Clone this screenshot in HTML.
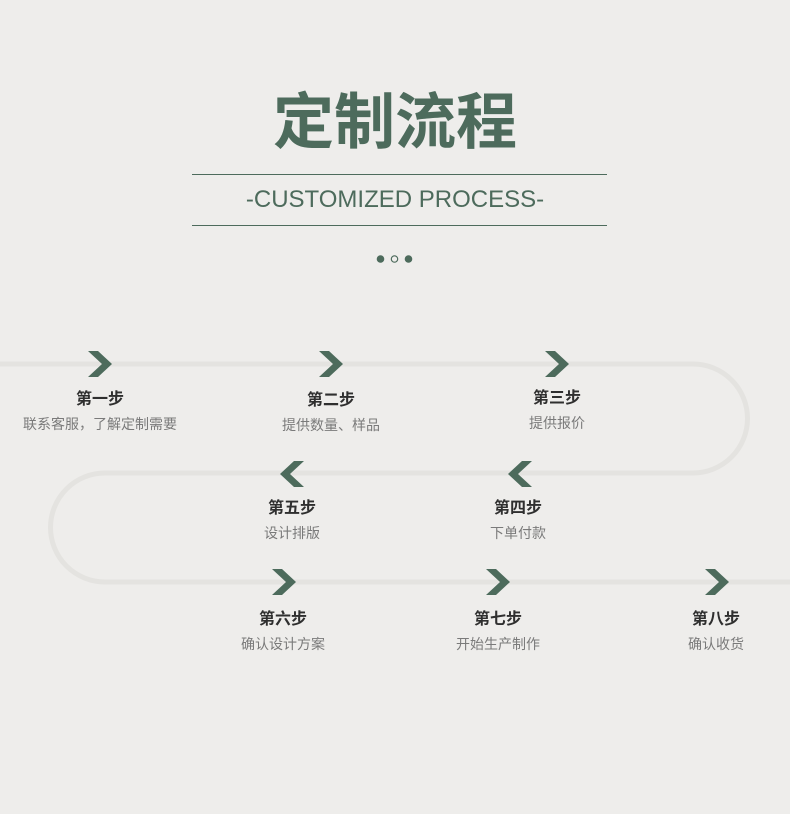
<!DOCTYPE html>
<html><head><meta charset="utf-8"><style>
html,body{margin:0;padding:0;background:#eeedeb;}
body{width:790px;height:814px;position:relative;overflow:hidden;font-family:"Liberation Sans","Noto Sans CJK SC",sans-serif;}
.t{position:absolute;left:0;width:790px;text-align:center;}
.lbl{position:absolute;width:200px;margin-left:-100px;text-align:center;}
.lbl b{display:block;font-size:16px;color:#2f2f2f;font-weight:bold;line-height:20px;}
.lbl span{display:block;font-size:14px;color:#7a7a7a;line-height:20px;margin-top:4px;}
</style></head><body>
<div class="t" style="top:86px;font-size:61px;font-weight:bold;color:#4d6b5c;line-height:72px;">定制流程</div>
<div style="position:absolute;left:192px;top:174px;width:415px;height:1px;background:#4d6b5c"></div>
<div class="t" style="top:185px;font-size:24px;color:#4d6b5c;line-height:30px;">-CUSTOMIZED PROCESS-</div>
<div style="position:absolute;left:192px;top:225px;width:415px;height:1px;background:#4d6b5c"></div>
<svg width="790" height="814" style="position:absolute;left:0;top:0">
<circle cx="380.5" cy="259" r="3.8" fill="#4d6b5c"/>
<circle cx="394.5" cy="259" r="3.2" fill="none" stroke="#4d6b5c" stroke-width="1.2"/>
<circle cx="408.5" cy="259" r="3.8" fill="#4d6b5c"/>
<path d="M0 364 H693 A54.5 54.5 0 0 1 693 473 H105 A54.5 54.5 0 0 0 105 582 H790" fill="none" stroke="#e4e3e0" stroke-width="5"/>
<g fill="#4d6b5c">
<polygon points="88,351 98,351 112,364 98,377 88,377 102,364"/>
<polygon points="319,351 329,351 343,364 329,377 319,377 333,364"/>
<polygon points="545,351 555,351 569,364 555,377 545,377 559,364"/>
<polygon points="304,461 294,461 280,474 294,487 304,487 290,474"/>
<polygon points="532,461 522,461 508,474 522,487 532,487 518,474"/>
<polygon points="272,569 282,569 296,582 282,595 272,595 286,582"/>
<polygon points="486,569 496,569 510,582 496,595 486,595 500,582"/>
<polygon points="705,569 715,569 729,582 715,595 705,595 719,582"/>
</g>
</svg>
<div class="lbl" style="left:100px;top:390px"><b>第一步</b><span>联系客服，了解定制需要</span></div>
<div class="lbl" style="left:331px;top:391px"><b>第二步</b><span>提供数量、样品</span></div>
<div class="lbl" style="left:557px;top:389px"><b>第三步</b><span>提供报价</span></div>
<div class="lbl" style="left:518px;top:499px"><b>第四步</b><span>下单付款</span></div>
<div class="lbl" style="left:292px;top:499px"><b>第五步</b><span>设计排版</span></div>
<div class="lbl" style="left:283px;top:610px"><b>第六步</b><span>确认设计方案</span></div>
<div class="lbl" style="left:498px;top:610px"><b>第七步</b><span>开始生产制作</span></div>
<div class="lbl" style="left:716px;top:610px"><b>第八步</b><span>确认收货</span></div>
</body></html>
